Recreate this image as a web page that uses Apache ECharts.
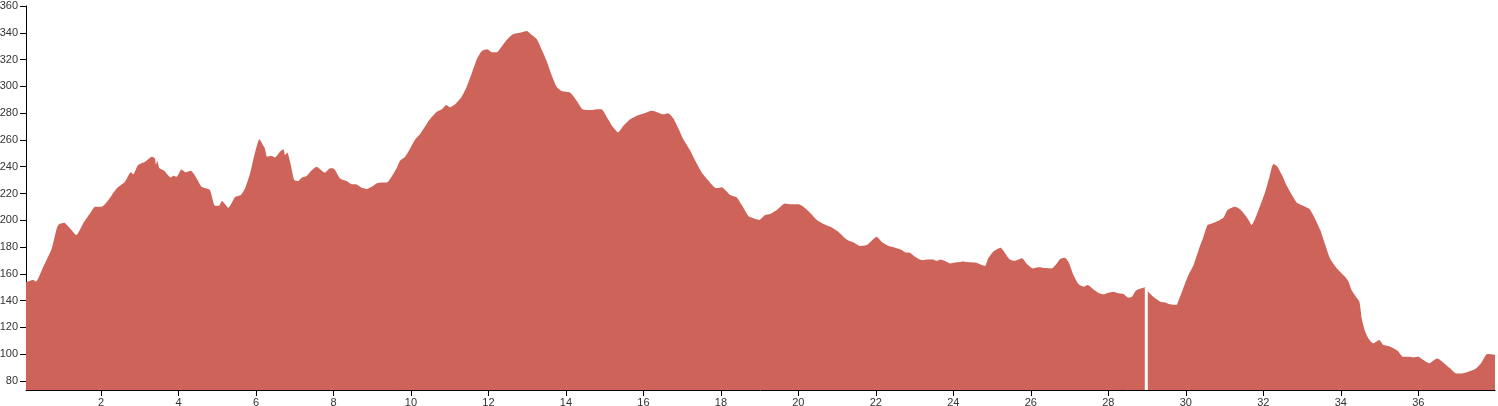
<!DOCTYPE html>
<html>
<head>
<meta charset="utf-8">
<script src="https://cdn.jsdelivr.net/npm/echarts@6/dist/echarts.min.js"></script>
<style>
html,body{margin:0;padding:0;background:#fff;}
#chart{width:1498px;height:406px;}
</style>
</head>
<body>
<div id="chart"></div>
<script>
const distanceKm = [0.065,0.25,0.32,0.51,0.73,0.86,0.92,1.05,1.2,1.36,1.54,1.72,1.85,2.02,2.19,2.41,2.62,2.77,2.83,2.96,3.14,3.31,3.39,3.42,3.45,3.51,3.63,3.80,3.88,3.95,4.08,4.19,4.32,4.47,4.6,4.81,4.94,5.05,5.12,5.29,5.46,5.61,5.72,5.85,5.96,6.09,6.19,6.23,6.29,6.41,6.49,6.62,6.71,6.75,6.81,6.88,6.99,7.09,7.18,7.31,7.42,7.57,7.65,7.78,7.91,8.02,8.17,8.34,8.47,8.58,8.73,8.86,8.99,9.12,9.25,9.38,9.5,9.63,9.72,9.85,9.98,10.1,10.23,10.36,10.49,10.67,10.8,10.91,11.01,11.14,11.31,11.44,11.57,11.7,11.83,11.97,12.09,12.21,12.34,12.47,12.64,12.82,12.99,13.12,13.25,13.38,13.51,13.63,13.76,13.89,14.11,14.28,14.43,14.62,14.8,14.92,15.05,15.21,15.35,15.48,15.66,15.83,16.0,16.22,16.39,16.52,16.64,16.77,16.9,17.03,17.2,17.33,17.51,17.68,17.89,18.02,18.11,18.24,18.41,18.54,18.71,18.84,18.99,19.14,19.27,19.44,19.66,19.83,20.0,20.13,20.3,20.48,20.65,20.86,21.03,21.21,21.33,21.42,21.61,21.77,21.89,22.02,22.15,22.32,22.5,22.67,22.75,22.88,23.01,23.19,23.36,23.48,23.57,23.67,23.79,23.91,24.09,24.26,24.43,24.6,24.73,24.82,24.9,25.03,25.22,25.34,25.46,25.59,25.77,25.9,26.05,26.2,26.37,26.54,26.67,26.76,26.88,26.99,27.1,27.23,27.36,27.47,27.61,27.74,27.87,28.0,28.13,28.26,28.39,28.52,28.61,28.71,28.85,28.95,29.03,29.16,29.34,29.47,29.59,29.75,29.85,29.98,30.09,30.2,30.33,30.45,30.56,30.67,30.84,30.97,31.08,31.27,31.4,31.53,31.63,31.7,31.8,31.92,32.05,32.16,32.26,32.35,32.48,32.61,32.74,32.87,33.04,33.19,33.31,33.47,33.6,33.72,33.85,33.98,34.11,34.2,34.28,34.39,34.48,34.54,34.63,34.74,34.84,34.99,35.1,35.23,35.36,35.49,35.6,35.75,35.87,36.0,36.13,36.29,36.37,36.49,36.65,36.82,36.98,37.12,37.29,37.47,37.62,37.78,37.89,37.98];
const elevation = [153.7,155.4,154.2,165.3,179,194,197.2,198.2,194,189,197.7,205.2,210.1,210.1,215.1,223.9,228.8,235.8,234.3,241.3,243.7,247.5,246.3,241.3,244.5,238.8,237,232,233.3,232.5,238,235.8,237,231.3,225,222.6,210.9,210.9,214.4,209.4,217.4,218.9,223.9,235.1,248.7,260.5,255.7,253.7,247.5,248,247,251.2,253,248.7,250.7,243.7,230,229.3,231.8,233,236.8,240,238.3,235.5,238.8,238.3,231.3,229.3,226.9,226.9,224.3,223.4,225.1,227.6,228.3,228.3,232.5,238.8,244.5,247.5,253.7,260,264.2,269.9,275.5,281.1,282.9,286.1,284.4,286.6,292.3,299.7,309.7,320.2,326.4,327.7,325.4,325.4,329.6,334.6,339.1,340.1,341.3,338.3,335.1,327.1,318.4,308.5,299.7,296.5,295.3,289.3,282.9,282.3,282.9,282.9,277.4,269.9,265.7,270.4,275.4,278.1,279.7,281.8,280.3,279.1,279.9,276.1,268.7,260.5,252.5,245,235.5,229.6,223.9,224.6,222.6,218.9,217.1,211.4,203.2,201.5,200.2,203.9,204.7,207.7,212.6,211.9,211.9,210.1,205.7,200.2,197.2,194.7,191.5,186.5,184.5,183.5,180.8,181.5,184.8,187.7,184,181,179.5,177.8,176.1,175.8,172.8,170.3,170.8,170.8,169.8,170.8,169.6,167.8,168.6,169.3,168.6,168.3,166.6,165.9,171.6,176.6,179.5,175.3,170.8,169.8,171.6,167.3,164.1,164.9,164.3,164.1,167.8,171.1,172,167.8,159.1,152.4,150.4,151.7,148.5,145.9,144.7,145.9,146.7,145.5,145,142.2,142.9,147.4,149.2,149.9,146.7,142.9,139.2,138.7,137.3,136.8,142.9,152.9,160.4,166.6,177.8,187.3,196.5,197.7,199.7,201.9,207.7,210.1,208.2,203.9,199.7,196.5,202,211,221.3,232.5,242,240.5,233.8,225.6,218.9,213.1,210.7,208.4,202.7,192.7,181.5,171.6,165.9,161.6,157.9,154.2,147.9,142.9,139.2,126.7,116.8,110.6,108.1,110.6,106.9,106.1,104.4,101.9,98.2,98.2,97.7,98.2,95.7,93.2,94.9,96.9,93.7,89.5,85.7,85.7,86.9,88.9,93.2,100.1,99.9,99.4];
const xTickValues = [2,4,6,8,10,12,14,16,18,20,22,24,26,28,30,32,34,36];
const yTickValues = [80,100,120,140,160,180,200,220,240,260,280,300,320,340,360];
const markerKm = 28.98;
const markerTop = 149.6;
const yMin = 73.3, yMax = 360, xMin = 0.065, xMax = 37.98;

const chart = echarts.init(document.getElementById('chart'), null, {renderer: 'canvas'});
const labelFont = {fontFamily: 'Liberation Sans, Arial, sans-serif', fontSize: 11, color: '#333'};
chart.setOption({
  animation: false,
  grid: {left: 26, right: 3, top: 6, bottom: 16, containLabel: false, outerBoundsMode: 'none'},
  xAxis: {
    type: 'value', min: xMin, max: xMax,
    axisLine: {show: true, lineStyle: {color: '#000', width: 1}},
    axisTick: {show: true, length: 6, lineStyle: {color: '#000'}, customValues: xTickValues},
    axisLabel: Object.assign({margin: 7, customValues: xTickValues}, labelFont),
    splitLine: {show: false}
  },
  yAxis: {
    type: 'value', min: yMin, max: yMax,
    axisLine: {show: true, lineStyle: {color: '#000', width: 1}},
    axisTick: {show: true, length: 6, lineStyle: {color: '#000'}, customValues: yTickValues},
    axisLabel: Object.assign({margin: 8, customValues: yTickValues}, labelFont),
    splitLine: {show: false}
  },
  series: [
    {
      type: 'line',
      data: distanceKm.map((d, i) => [d, elevation[i]]),
      showSymbol: false,
      smooth: 0.2,
      lineStyle: {width: 0},
      areaStyle: {color: '#ce6459', opacity: 1, origin: 'start'},
      z: 1
    },
    {
      type: 'line',
      data: [[markerKm, yMin], [markerKm, markerTop]],
      showSymbol: false,
      lineStyle: {color: '#fff', width: 3},
      z: 2
    }
  ]
});
</script>
</body>
</html>
